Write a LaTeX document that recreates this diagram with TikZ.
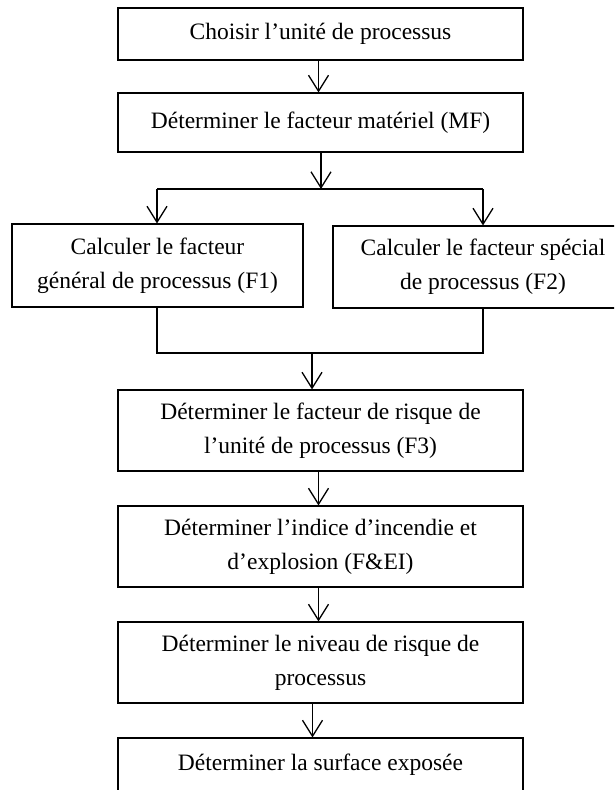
\documentclass[tikz,border=0pt]{standalone}
\usepackage{fontspec}
\setmainfont{Liberation Serif}
\usetikzlibrary{arrows.meta}
\begin{document}
\begin{tikzpicture}[x=1pt,y=-1pt,
  box/.style={draw, line width=1.1pt, align=center, inner sep=0pt,
    font=\fontsize{23.5}{34}\selectfont},
  conn/.style={line width=1.3pt},
  arr/.style={conn, -{Straight Barb[length=16pt,width=20pt,line width=1.3pt]}}]
\useasboundingbox (0,0) rectangle (614,790);
\clip (0,0) rectangle (614,790);
\node[box, minimum width=405pt, minimum height=52pt] (b1) at (320.5,34) {Choisir l’unité de processus};
\node[box, minimum width=405pt, minimum height=59pt] (b2) at (320.5,122.5) {Déterminer le facteur matériel (MF)};
\node[box, minimum width=291pt, minimum height=83pt] (L) at (157.5,265.5) {Calculer le facteur\\général de processus (F1)};
\node[box, minimum width=300pt, minimum height=82pt] (R) at (483,267) {Calculer le facteur spécial\\de processus (F2)};
\node[box, minimum width=405pt, minimum height=81pt] (b3) at (320.5,430.5) {Déterminer le facteur de risque de\\l’unité de processus (F3)};
\node[box, minimum width=405pt, minimum height=81pt] (b4) at (320.5,546.5) {Déterminer l’indice d’incendie et\\d’explosion (F\&EI)};
\node[box, minimum width=405pt, minimum height=81pt] (b5) at (320.5,662.5) {Déterminer le niveau de risque de\\processus};
\node[box, minimum width=405pt, minimum height=54pt] (b6) at (320.5,765) {Déterminer la surface exposée};
% connectors
\draw[arr] ([xshift=-2pt]b1.south) -- ([xshift=-2pt]b2.north);
\coordinate (s) at (321,189);
\coordinate (sl) at (157,189);
\coordinate (sr) at (483,189);
\draw[arr] (b2.south -| s) -- (s);
\draw[conn] (sl) -- (sr);
\draw[arr] (sl) -- (sl |- L.north);
\draw[arr] (sr) -- (sr |- R.north);
\coordinate (jl) at (157,353);
\coordinate (m) at (312,353);
\draw[conn] (L.south -| jl) -- (jl) -| (R.south);
\draw[arr] (m) -- (m |- b3.north);
\draw[arr] ([xshift=-2pt]b3.south) -- ([xshift=-2pt]b4.north);
\draw[arr] ([xshift=-2pt]b4.south) -- ([xshift=-2pt]b5.north);
\draw[arr] ([xshift=-8pt]b5.south) -- ([xshift=-8pt]b6.north);
\end{tikzpicture}
\end{document}
